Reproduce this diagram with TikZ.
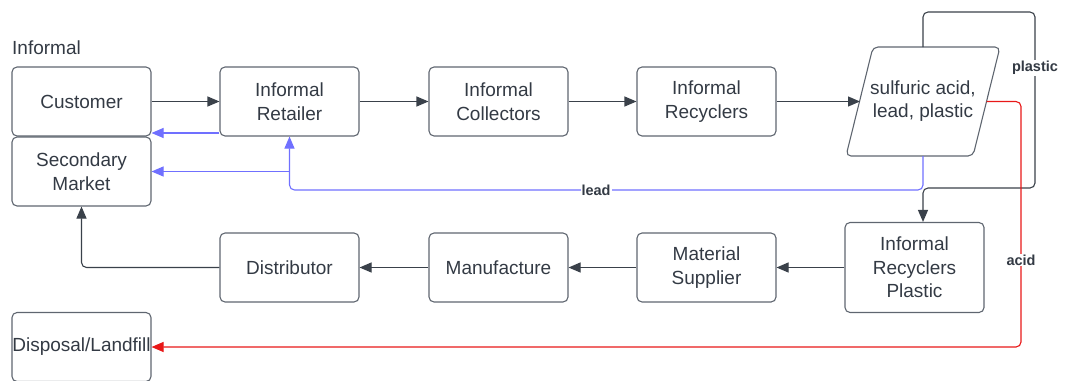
\documentclass[tikz,border=0pt]{standalone}
\usepackage{fontspec}
\setmainfont{Liberation Sans}
\usetikzlibrary{arrows.meta,calc}
\definecolor{boxc}{HTML}{5F6670}
\definecolor{txtc}{HTML}{333A44}
\definecolor{linec}{HTML}{3A414A}
\definecolor{bluec}{HTML}{7070FF}
\definecolor{redc}{HTML}{E81818}
\tikzset{
  box/.style={draw=boxc, line width=1.1pt, rounded corners=5pt, minimum width=139pt, minimum height=69pt,
    align=center, text=txtc, font=\fontsize{19}{23.5}\selectfont, inner sep=0pt},
  tip/.style={-{Triangle[length=12pt,width=10pt]}},
  conn/.style={draw=linec, line width=1.1pt, tip, rounded corners=5pt},
  bconn/.style={draw=bluec, line width=1.1pt, tip, rounded corners=5pt},
  rconn/.style={draw=redc, line width=1.1pt, tip, rounded corners=5pt},
  lab/.style={fill=white, text=txtc, font=\bfseries\fontsize{14.5}{17}\selectfont, inner sep=1pt},
}
\begin{document}
\begin{tikzpicture}[x=1pt,y=-1pt]
\useasboundingbox (0,0) rectangle (1065,380);
\node[anchor=base west, text=txtc, font=\fontsize{19}{23.5}\selectfont, inner sep=0pt] (inf) at (12,54) {Informal};
\node[box] (cust) at (81.5,101.5) {Customer};
\node[box] (sec) at (81.5,171.5) {Secondary\\Market};
\node[box] (ret) at (289.5,101.5) {Informal\\Retailer};
\node[box] (col) at (498.5,101.5) {Informal\\Collectors};
\node[box] (rec) at (706.5,101.5) {Informal\\Recyclers};
\node[box] (dist) at (289.5,267.5) {Distributor};
\node[box] (man) at (498.5,267.5) {Manufacture};
\node[box] (sup) at (706.5,267.5) {Material\\Supplier};
\node[box, minimum height=90pt] (plast) at (914.5,267.5) {Informal\\Recyclers\\Plastic};
\node[box] (disp) at (81.5,347) {Disposal/Landfill};
% parallelogram
\draw[draw=boxc, line width=1.1pt, rounded corners=5pt] (936,47) -- (1000,47) -- (973,156) -- (846,156) -- (873,47) -- (940,47);
\node[align=center, text=txtc, font=\fontsize{19}{23.5}\selectfont, inner sep=0pt] (par) at (923,101) {sulfuric acid,\\lead, plastic};
\coordinate (parL) at (860,101.5);
\coordinate (parR) at (986.6,101.5);
\coordinate (parT) at (923,47);
\coordinate (parB) at (923,156);
% main flow
\draw[conn] (cust.east) -- (ret.west);
\draw[conn] (ret.east) -- (col.west);
\draw[conn] (col.east) -- (rec.west);
\draw[conn] (rec.east) -- (parL);
% blue lead
\draw[bconn] ($(ret.west)+(0,31.5)$) -- ($(cust.east)+(0,31.5)$);
\coordinate (bl) at (596,190);
\draw[bconn] (parB) |- (bl) -| (ret.south);
\draw[bconn] (ret.south |- sec.east) -- (sec.east);
\node[lab] (leadlab) at (bl) {lead};
% plastic loop
\coordinate (pl1) at (1035,12);
\coordinate (pl2) at (1035,188);
\draw[conn] (parT) |- (pl1) -- (pl2) -| (parT |- plast.north);
\node[lab] (plastlab) at (1035,68) {plastic};
% acid
\coordinate (ac) at (1021,260);
\draw[rconn] (parR) -| (ac) |- (disp.east);
\node[lab] (acidlab) at (ac) {acid};
% bottom row
\draw[conn] (plast.west) -- (sup.east);
\draw[conn] (sup.west) -- (man.east);
\draw[conn] (man.west) -- (dist.east);
\draw[conn] (dist.west) -| (sec.south);
\end{tikzpicture}
\end{document}
